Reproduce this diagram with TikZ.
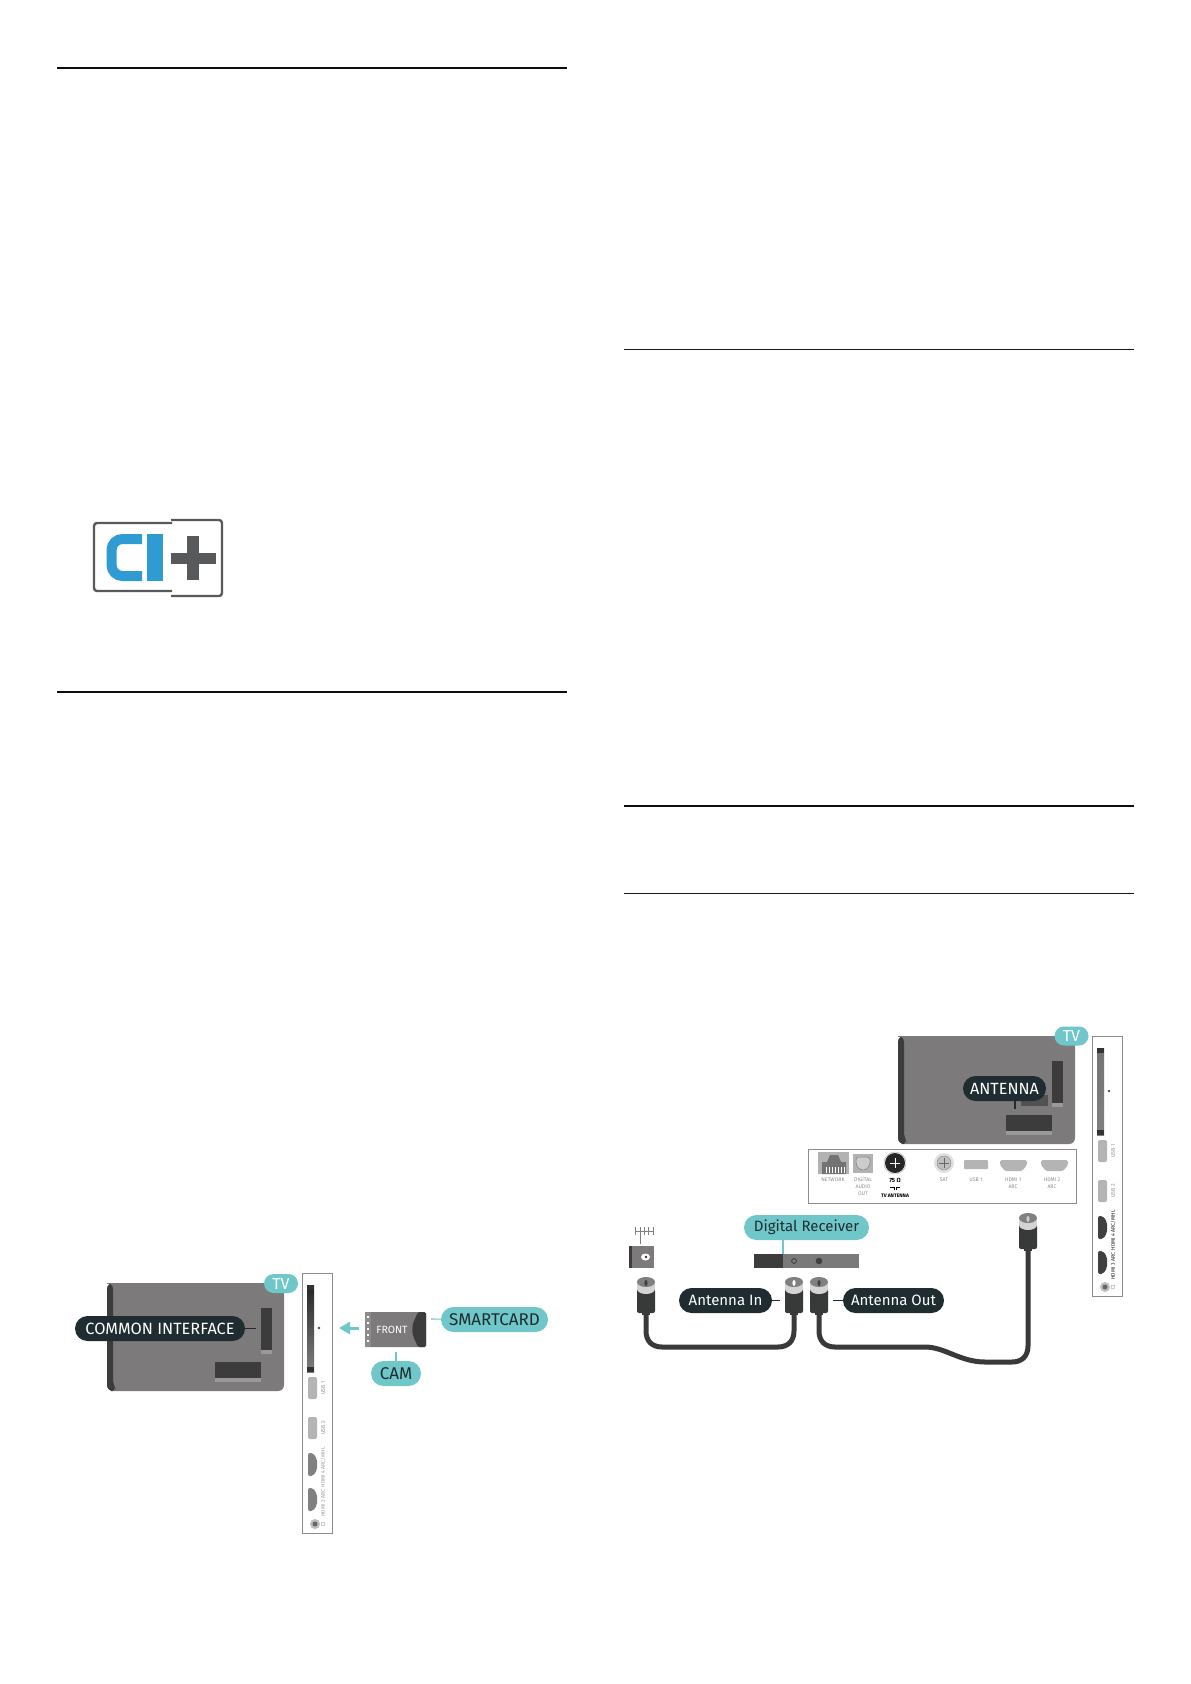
\documentclass[tikz,border=0pt]{standalone}
\usepackage{fontspec}
\setmainfont{Fira Sans}
\usetikzlibrary{calc,arrows.meta}
\definecolor{calloutteal}{HTML}{6FC7C9}
\definecolor{calloutdark}{HTML}{1F2D30}
\definecolor{tvgrey}{HTML}{7C7A7A}
\definecolor{tvdark}{HTML}{3C3C3C}
\definecolor{portgrey}{HTML}{B4B4B4}
\definecolor{cablegrey}{HTML}{383A3A}
\definecolor{ciblue}{HTML}{2E9BD2}
\definecolor{cigrey}{HTML}{58595B}
\tikzset{
	pagerule/.style={line width=1.5pt, color=black!90},
	headrule/.style={line width=2pt, color=black!95},
	tealpill/.style={fill=calloutteal, text=calloutdark, rounded corners=12.5pt, minimum height=25pt, inner sep=0pt, font=\fontsize{15}{15}\selectfont},
	darkpill/.style={fill=calloutdark, text=white, rounded corners=12.5pt, minimum height=25pt, inner sep=0pt, font=\fontsize{15}{15}\selectfont},
	tvpill/.style={tealpill, text=white, font=\fontsize{16}{16}\selectfont, minimum width=34pt, minimum height=19pt, rounded corners=9.5pt},
	tealtie/.style={line width=1.1pt, color=calloutteal},
	darktie/.style={line width=1.1pt, color=calloutdark},
	tinylabel/.style={color=black!45, inner sep=0pt, align=center, font=\fontsize{5.2}{7}\selectfont},
	cable/.style={line width=5pt, color=cablegrey, line cap=round},
}
% one coax plug, given its centre, its top and the colour of its pin
\def\coaxplug(#1,#2)[#3]{
	\fill[cablegrey] (#1, #2+12) ellipse (9 and 7);
	\fill[cablegrey, rounded corners=2pt] (#1-9, #2+12) rectangle (#1+9, #2+36);
	\fill[cablegrey] (#1-4, #2+35) rectangle (#1+4, #2+38);
	\fill[black!17] (#1-9, #2+5) rectangle (#1+9, #2+12);
	\fill[black!17] (#1, #2+12) ellipse (9 and 5);
	\fill[black!50] (#1, #2+5) ellipse (9 and 5);
	\fill[#3] (#1, #2+6) ellipse (1.6 and 3);
}
% tall strip of sockets at the back of the tv
\def\sidepanel(#1,#2)[#3][#4][#5]{
	\draw[line width=0.8pt, color=black!45] (#1, #2) rectangle (#1+30, #2+260);
	\shade[top color=#3, bottom color=black!50] (#1+5, #2+12) rectangle (#1+12, #2+99);
	\fill[black!80] (#1+5, #2+12) rectangle (#1+12, #2+17);
	\fill[black!80] (#1+5, #2+94) rectangle (#1+12, #2+99);
	\fill[black!70] (#1+17, #2+55) circle (1.3);
	\fill[portgrey, rounded corners=2pt] (#1+6, #2+104) rectangle (#1+15, #2+126);
	\fill[portgrey, rounded corners=2pt] (#1+6, #2+144) rectangle (#1+15, #2+166);
	\fill[#4, rounded corners=2pt] (#1+6, #2+180) -- (#1+11, #2+180) -- (#1+15, #2+186) -- (#1+15, #2+197) -- (#1+11, #2+203) -- (#1+6, #2+203) -- cycle;
	\fill[#4, rounded corners=2pt] (#1+6, #2+215) -- (#1+11, #2+215) -- (#1+15, #2+221) -- (#1+15, #2+232) -- (#1+11, #2+238) -- (#1+6, #2+238) -- cycle;
	\fill[black!25] (#1+13, #2+251) circle (5);
	\fill[black!60] (#1+13, #2+251) circle (2.5);
	\node[tinylabel, rotate=90] at (#1+21, #2+115) {USB 1};
	\node[tinylabel, rotate=90] at (#1+21, #2+155) {USB 2};
	\node[tinylabel, rotate=90, color=#5] at (#1+21, #2+209) {HDMI 3 ARC\ \ HDMI 4 ARC/MHL};
	\draw[color=black!40, line width=0.4pt] (#1+21, #2+251) circle (2);
}
% rear view of the tv
\def\tvbody(#1,#2){
	\fill[tvgrey, rounded corners=6pt] (#1, #2) -- (#1, #2+108) -- (#1+177, #2+108) -- (#1+177, #2) -- cycle;
	\fill[tvdark, rounded corners=6pt] (#1, #2) -- (#1, #2+108) -- (#1+10, #2+108) -- (#1+6, #2+102) -- (#1+6, #2) -- cycle;
	\fill[tvgrey] (#1, #2) rectangle (#1+177, #2+0.7);
	\fill[tvdark] (#1+154, #2+25) rectangle (#1+165, #2+67);
	\fill[black!40] (#1+154, #2+67) rectangle (#1+165, #2+71);
	\fill[tvdark] (#1+108, #2+79) rectangle (#1+154, #2+95);
	\fill[black!40] (#1+108, #2+95) rectangle (#1+154, #2+99);
}

\begin{document}
\begin{tikzpicture}[x=1pt, y=-1pt]
	%%%%% START %%%%%
	\useasboundingbox (0, 0) rectangle (1191, 1684);
	
	% page rules
	\draw[headrule] (57, 68) -- (567, 68);
	\draw[headrule] (57, 692) -- (567, 692);
	\draw[pagerule] (624, 349.5) -- (1134, 349.5);
	\draw[headrule] (624, 806) -- (1134, 806);
	\draw[pagerule] (624, 893.5) -- (1134, 893.5);
	
	% CI+ logo
	\draw[line width=2.4pt, color=cigrey, rounded corners=3pt] (172, 523) -- (94, 523) -- (94, 591) -- (172, 591);
	\draw[line width=2.4pt, color=cigrey, rounded corners=3pt] (171, 520) -- (222, 520) -- (222, 596) -- (171, 596);
	\draw[line width=10pt, color=ciblue, rounded corners=11pt] (142, 539) -- (111.5, 539) -- (111.5, 576) -- (142, 576);
	\fill[ciblue] (147, 534) rectangle (163, 581);
	\fill[cigrey] (187, 536) rectangle (199, 580);
	\fill[cigrey] (171, 553) rectangle (216, 564);
	
	%%%%% COMMON INTERFACE %%%%%
	\tvbody(107, 1283)
	\sidepanel(302, 1273)[black!85][black!50][black!40]
	\node[tvpill] (tvci) at (281, 1283.5) {TV};
	\node[darkpill, minimum width=170pt, font=\fontsize{16.3}{16.3}\selectfont] (commonif) at (160, 1328.5) {COMMON INTERFACE};
	\coordinate (cislot) at (256, 1328.5);
	\draw[darktie] (commonif) -- (cislot);
	
	\coordinate (arrowtail) at (359, 1328);
	\coordinate (arrowhead) at (339, 1328);
	\draw[-{Triangle[length=11pt, width=12pt]}, line width=3pt, color=calloutteal] (arrowtail) -- (arrowhead);
	
	\fill[tvgrey, rounded corners=1.5pt] (365, 1312) rectangle (426, 1347);
	\fill[black!45] (365, 1312) -- (371, 1312) -- (371, 1347) -- (365, 1347) -- cycle;
	\fill[tvdark, rounded corners=1.5pt] (418, 1312) -- (426, 1312) -- (426, 1347) -- (418, 1347) -- (414, 1338) .. controls (412, 1333) and (412, 1326) .. (414, 1321) -- cycle;
	\foreach \y in {1316,1322,...,1344} {
		\fill[white] (367, \y) rectangle (369, \y+2);
	}
	\node[color=white, inner sep=0pt, font=\fontsize{10.5}{10.5}\selectfont] (frontlabel) at (392, 1330) {FRONT};
	\coordinate (cardright) at (431, 1319);
	\coordinate (cardbottom) at (396, 1352);
	\node[tealpill, minimum width=107pt, font=\fontsize{17}{17}\selectfont] (smartcard) at (494.5, 1319.5) {SMARTCARD};
	\node[tealpill, minimum width=50pt, font=\fontsize{17}{17}\selectfont] (camlabel) at (396, 1373.5) {CAM};
	\draw[tealtie] (smartcard) -- (cardright);
	\draw[tealtie] (camlabel) -- (cardbottom);
	
	%%%%% ANTENNA %%%%%
	\tvbody(898, 1036)
	\fill[black!68] (1021, 1095) rectangle (1048, 1106);
	\sidepanel(1092, 1036)[black!55][black!75][black!90]
	\node[tvpill] (tvant) at (1071.5, 1036) {TV};
	\node[darkpill, minimum width=83pt, font=\fontsize{16.2}{16.2}\selectfont] (antenna) at (1004.5, 1088.5) {ANTENNA};
	\coordinate (antslot) at (1015, 1109);
	\draw[darktie] (antenna.south -| antslot) -- (antslot);
	
	% row of sockets
	\draw[line width=0.8pt, color=black!45] (808, 1149) rectangle (1076, 1203);
	\fill[black!30] (818, 1152) rectangle (849, 1174);
	\fill[black!55] (822, 1174) -- (822, 1162) -- (827, 1162) -- (830, 1155) -- (838, 1155) -- (841, 1162) -- (846, 1162) -- (846, 1174) -- cycle;
	\foreach \x in {826,829,...,844} {
		\draw[white, line width=0.5pt] (\x, 1167) -- (\x, 1173);
	}
	\fill[black!30] (853, 1154) rectangle (873, 1173);
	\draw[black!50, line width=0.5pt, fill=black!20, rounded corners=3pt] (856, 1157) -- (870, 1157) -- (870, 1165) -- (866, 1170) -- (860, 1170) -- (856, 1165) -- cycle;
	\draw[black!30, line width=0.5pt] (895, 1163) circle (11);
	\fill[black!85] (895, 1163) circle (10);
	\draw[white, line width=0.4pt] (890, 1163) -- (900, 1163) (895, 1158) -- (895, 1168);
	\fill[black!12] (944, 1163) circle (10);
	\draw[black!45, line width=0.5pt, fill=black!25] (944, 1163) circle (7);
	\draw[black!60, line width=0.4pt] (939, 1163) -- (949, 1163) (944, 1158) -- (944, 1168);
	\fill[portgrey, rounded corners=1pt] (964, 1160) rectangle (988, 1169);
	\foreach \x in {1000,1041} {
		\fill[portgrey, rounded corners=1.5pt] (\x, 1160) -- (\x+27, 1160) -- (\x+27, 1165) -- (\x+22, 1171) -- (\x+5, 1171) -- (\x, 1165) -- cycle;
	}
	\node[tinylabel] at (833, 1180) {NETWORK};
	\node[tinylabel, anchor=north] at (863, 1177.5) {DIGITAL\\AUDIO\\OUT};
	\node[inner sep=0pt, color=black, font=\fontsize{6}{6}\selectfont\bfseries] at (895, 1180) {75 Ω};
	\draw[line width=0.7pt] (890, 1187) -- (894, 1187) -- (894, 1190) (900, 1187) -- (896, 1187) -- (896, 1190);
	\node[inner sep=0pt, color=black, font=\fontsize{5}{5}\selectfont\bfseries] at (895, 1196) {TV ANTENNA};
	\node[tinylabel] at (944, 1180) {SAT};
	\node[tinylabel] at (976, 1180) {USB 1};
	\node[tinylabel, anchor=north] at (1013, 1177.5) {HDMI 1\\ARC};
	\node[tinylabel, anchor=north] at (1052, 1177.5) {HDMI 2\\ARC};
	
	% antenna on the wall
	\draw[black!50, line width=1pt] (640, 1227) -- (640, 1244);
	\draw[black!50, line width=0.8pt] (635, 1231) -- (653, 1231);
	\foreach \x in {635,640,644,648,653} {
		\draw[black!50, line width=0.8pt] (\x, 1227) -- (\x, 1235);
	}
	\fill[tvgrey] (629, 1246) rectangle (654, 1268);
	\fill[tvdark] (629, 1246) rectangle (632, 1268);
	\fill[white] (645.5, 1257) ellipse (4.5 and 3.5);
	\fill[black!80] (646, 1257) circle (1.3);
	
	% digital receiver
	\fill[black!52] (754, 1254) rectangle (859, 1268);
	\fill[tvdark] (754, 1254) rectangle (783, 1268);
	\draw[black!75, line width=0.9pt] (794, 1261) circle (2.4);
	\fill[black!75] (819, 1261) circle (3.3);
	\node[tealpill, minimum width=125pt] (receiver) at (806.5, 1227.5) {Digital Receiver};
	\coordinate (rxtop) at (783, 1254);
	\draw[tealtie] (receiver.south -| rxtop) -- (rxtop);
	
	% cables
	\draw[cable] (646, 1312) -- (646, 1331) .. controls (646, 1341) and (652, 1347) .. (662, 1347) -- (778, 1347) .. controls (788, 1347) and (794, 1341) .. (794, 1331) -- (794, 1312);
	\draw[cable] (819, 1312) -- (819, 1331) .. controls (819, 1341) and (825, 1347) .. (835, 1347) -- (925, 1347) .. controls (945, 1347) and (960, 1362) .. (985, 1362) -- (1012, 1362) .. controls (1022, 1362) and (1028, 1356) .. (1028, 1346) -- (1028, 1250);
	\coaxplug(646, 1277)[black!75]
	\coaxplug(794, 1277)[white]
	\coaxplug(819, 1277)[black!75]
	\coaxplug(1028, 1213)[black!20]
	
	\node[darkpill, minimum width=93pt] (antin) at (725.5, 1300.5) {Antenna In};
	\node[darkpill, minimum width=101pt] (antout) at (893.5, 1300.5) {Antenna Out};
	\coordinate (plugin) at (780, 1300.5);
	\coordinate (plugout) at (833, 1300.5);
	\draw[darktie] (antin) -- (plugin);
	\draw[darktie] (antout) -- (plugout);
	
	%%%%% END %%%%%
\end{tikzpicture}
\end{document}
